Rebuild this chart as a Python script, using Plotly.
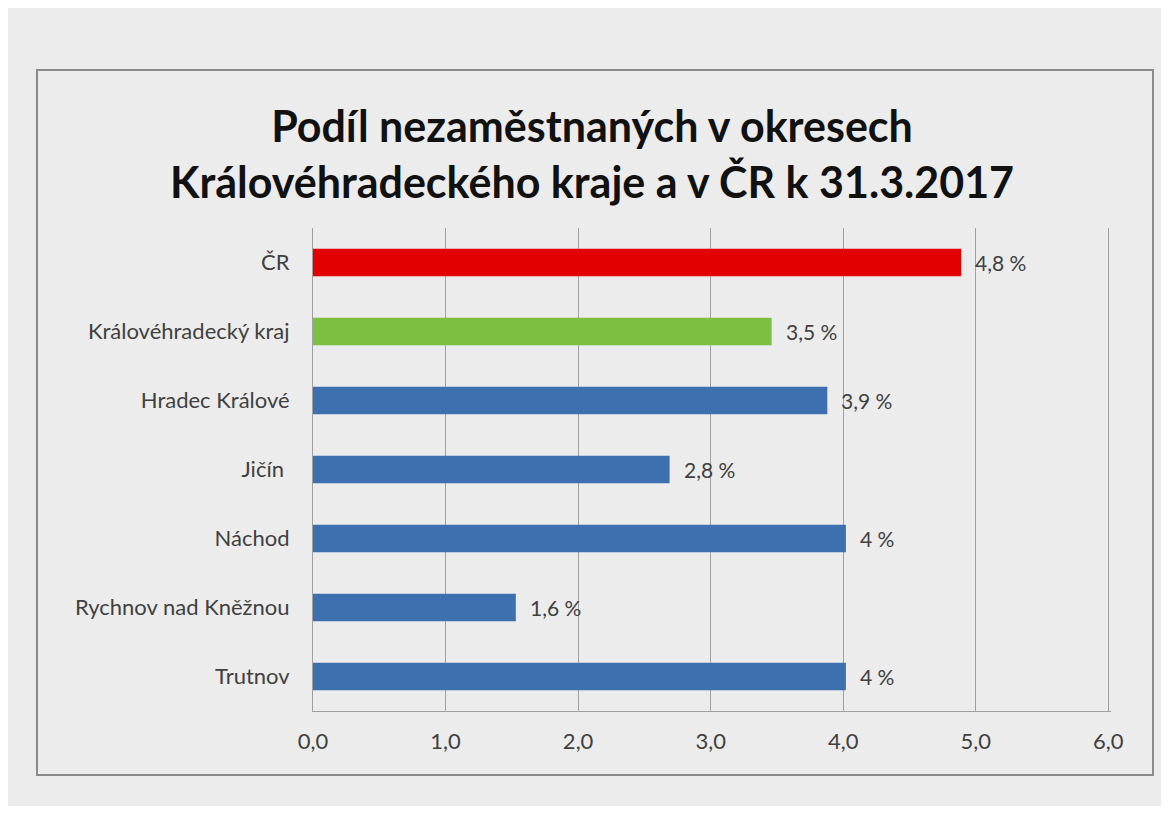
import plotly.graph_objects as go

categories = ["ČR", "Královéhradecký kraj", "Hradec Králové", "Jičín ", "Náchod",
              "Rychnov nad Kněžnou", "Trutnov"]
values = [4.89, 3.46, 3.88, 2.69, 4.02, 1.53, 4.02]
value_labels = ["4,8 %", "3,5 %", "3,9 %", "2,8 %", "4 %", "1,6 %", "4 %"]
bar_colors = ["#e20000", "#7dbf40", "#3e6fae", "#3e6fae", "#3e6fae", "#3e6fae", "#3e6fae"]
x_ticks = [0, 1, 2, 3, 4, 5, 6]

title_text = "Podíl nezaměstnaných v okresech<br>Královéhradeckého kraje a v ČR k 31.3.2017"

# page body has an 8px margin; figure coordinates = screen - 8
OFF = 8
W, H = 1169 - 2 * OFF, 814 - 2 * OFF
X_MAX = 6.02
L, T = 313 - OFF, 228 - OFF
R = W - (1111 - OFF)
B = H - (711 - OFF)
pw, ph = W - L - R, H - T - B

fig = go.Figure()
fig.add_trace(go.Bar(
    x=values, y=categories, orientation="h",
    marker=dict(color=bar_colors, line=dict(width=0)),
    hoverinfo="skip",
))

for v, c, lab in zip(values, categories, value_labels):
    fig.add_annotation(x=v, y=c, text=lab, showarrow=False, xanchor="left",
                       xshift=12, font=dict(family="Lato", size=21, color="#404040"))

def px_x(p):
    return (p - OFF - L) / pw

def px_y(p):
    return (H - B - (p - OFF)) / ph

fig.add_shape(type="rect", xref="paper", yref="paper",
              x0=px_x(37), x1=px_x(1153), y0=px_y(775), y1=px_y(70),
              line=dict(color="#8a8a8a", width=2), fillcolor="rgba(0,0,0,0)", layer="below")

fig.update_layout(
    width=W, height=H,
    margin=dict(l=L, r=R, t=T, b=B),
    paper_bgcolor="#ececec", plot_bgcolor="#ececec",
    separators=", ",
    bargap=0.6,
    showlegend=False,
    title=dict(text=title_text, x=(592 - OFF) / W, xref="container", xanchor="center",
               y=1 - 134 / H, yref="container", yanchor="middle",
               font=dict(family="Lato", size=43, color="#111111", weight="bold")),
    xaxis=dict(range=[0, X_MAX], tickvals=x_ticks, tickformat=".1f",
               showgrid=True, gridcolor="#a0a0a0", gridwidth=1, zeroline=False,
               showline=True, linecolor="#a0a0a0", linewidth=1,
               ticks="", ticklabelstandoff=11,
               tickfont=dict(family="Lato", size=22, color="#404040"),
               fixedrange=True),
    yaxis=dict(autorange="reversed", showgrid=False, zeroline=False,
               showline=True, linecolor="#a0a0a0", linewidth=1,
               ticks="", ticklabelstandoff=18,
               tickfont=dict(family="Lato", size=22, color="#404040"),
               fixedrange=True),
)

fig.write_html("out.html")
